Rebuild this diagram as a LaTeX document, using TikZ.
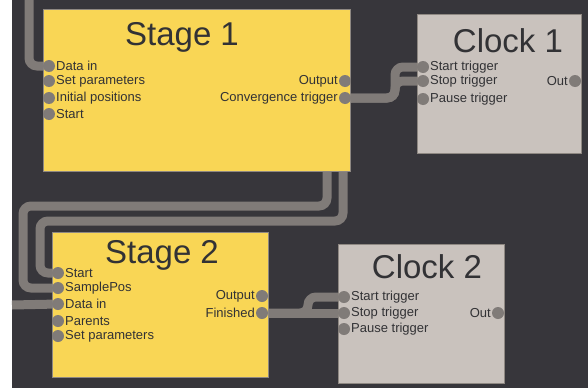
\documentclass[tikz,border=0pt]{standalone}
\usepackage{fontspec}
\setmainfont{Liberation Sans}
\pgfdeclarelayer{wires}
\pgfsetlayers{wires,main}

\definecolor{canvas}{HTML}{37363B}
\definecolor{stagefill}{HTML}{F9D655}
\definecolor{clockfill}{HTML}{C9C2BD}
\definecolor{wiregray}{HTML}{807B78}
\definecolor{edgegray}{HTML}{8E8882}
\definecolor{inkgray}{HTML}{323235}

\begin{document}
\begin{tikzpicture}[x=1pt,y=-1pt,
    block/.style={draw=edgegray, line width=1.2pt, anchor=north west, inner sep=0pt},
    stage/.style={block, fill=stagefill},
    clock/.style={block, fill=clockfill},
    title/.style={font=\fontsize{33}{33}\selectfont, text=inkgray, anchor=base},
    port/.style={circle, fill=wiregray, minimum size=12pt, inner sep=0pt},
    pin/.style={font=\fontsize{13}{15}\selectfont, text=inkgray, inner sep=0.8pt},
    inport/.style={port, label={[pin]right:#1}},
    outport/.style={port, label={[pin]left:#1}},
    wire/.style={draw=wiregray, line width=9pt, rounded corners=8pt}]
        \useasboundingbox (0,0) rectangle (588,388);

        \node[stage, minimum width=307, minimum height=162] (stage1) at (43,9) {}; %stage 1
        \node[title] (stage1title) at (182,45) {Stage 1};
        \foreach \y/\name [count=\i] in {66/Data in,81/Set parameters,98/Initial positions,114/Start}
            \node[inport=\name] (s1in\i) at (49,\y) {};
        \node[outport=Output] (s1out1) at (345,81) {};
        \node[outport=Convergence trigger] (s1out2) at (345,98) {};

        \node[clock, minimum width=164, minimum height=139] (clock1) at (417,14) {}; %clock 1
        \node[title] (clock1title) at (508,52) {Clock 1};
        \foreach \y/\name [count=\i] in {67/Start trigger,81/Stop trigger,99/Pause trigger}
            \node[inport=\name] (c1in\i) at (423,\y) {};
        \node[outport=Out] (c1out) at (575,81) {};

        \node[stage, minimum width=216, minimum height=145] (stage2) at (52,232) {}; %stage 2
        \node[title] (stage2title) at (162,263) {Stage 2};
        \foreach \y/\name [count=\i] in {273/Start,288/SamplePos,304/Data in,321/Parents,336/Set parameters}
            \node[inport=\name] (s2in\i) at (58,\y) {};
        \node[outport=Output] (s2out1) at (262,296) {};
        \node[outport=Finished] (s2out2) at (262,313) {};

        \node[clock, minimum width=166, minimum height=139] (clock2) at (338,244) {}; %clock 2
        \node[title] (clock2title) at (427,278) {Clock 2};
        \foreach \y/\name [count=\i] in {297/Start trigger,313/Stop trigger,329/Pause trigger}
            \node[inport=\name] (c2in\i) at (344,\y) {};
        \node[outport=Out] (c2out) at (498,313) {};

        % wires run under the blocks
        \begin{pgfonlayer}{wires}
            \fill[canvas] (12,0) rectangle (588,388);
            \coordinate (feedtop) at (29,0);
            \coordinate (feedleft) at (12,305);
            \draw[wire] (feedtop) |- (s1in1.center);
            \draw[wire] (s1out1.center) -- ++(-18,0) |- (23,206) |- (s2in2.center);
            \draw[wire] (s1out2.center) -- ++(-2,0) |- (40,221) |- (s2in1.center);
            \draw[wire] (feedleft) -- (s2in3.center);
            \draw[wire] (s1out2.center) -- ++(50,0) |- (c1in1.center);
            \draw[wire] (s1out2.center) -- ++(50,0) |- (c1in2.center);
            \draw[wire] (s2out2.center) -- (c2in2.center);
            \draw[wire] (s2out2.center) -- ++(46,0) |- (c2in1.center);
        \end{pgfonlayer}
    \end{tikzpicture}
\end{document}
